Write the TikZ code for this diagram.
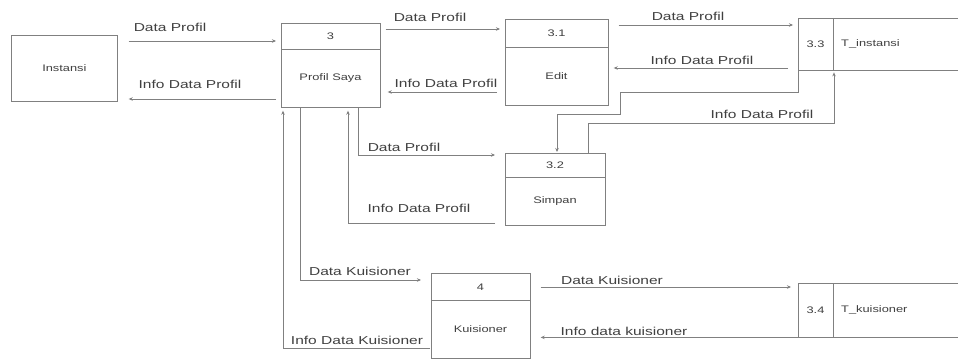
\documentclass[tikz,border=0pt]{standalone}
\usepackage{fontspec}
\setmainfont[FakeStretch=1.35]{Liberation Sans}
\usetikzlibrary{arrows.meta}
\begin{document}
\begin{tikzpicture}[x=1pt,y=-1pt,
  line/.style={draw=black!50, line width=0.7pt},
  flow/.style={line, -{Stealth[length=4pt,width=3.5pt]}},
  box/.style={line, rectangle, inner sep=0pt, anchor=north west},
  store/.style={rectangle, inner sep=0pt, anchor=north west},
  lbl/.style={font=\fontsize{11.5}{13}\selectfont, text=black!75, inner sep=0pt},
  txt/.style={font=\fontsize{9.5}{11}\selectfont, text=black!75, inner sep=0pt}]
\useasboundingbox[fill=white] (0,0) rectangle (958,361);

% external entity
\node[box, minimum width=106pt, minimum height=66pt] (inst) at (11,35) {};
\node[txt] (inst-t) at (inst.center) {Instansi};

% process 3
\node[box, minimum width=99pt, minimum height=84pt] (p3) at (281,23) {};
\draw[line] (p3.west |- 0,49) -- (p3.east |- 0,49);
\node[txt] (p3-n) at (330.5,36) {3};
\node[txt] (p3-t) at (330.5,78) {Profil Saya};

% process 3.1
\node[box, minimum width=103pt, minimum height=86pt] (p31) at (505,19) {};
\draw[line] (p31.west |- 0,47) -- (p31.east |- 0,47);
\node[txt] (p31-n) at (556.5,33) {3.1};
\node[txt] (p31-t) at (556.5,76) {Edit};

% process 3.2
\node[box, minimum width=100pt, minimum height=72pt] (p32) at (505,153) {};
\draw[line] (p32.west |- 0,177) -- (p32.east |- 0,177);
\node[txt] (p32-n) at (555,165) {3.2};
\node[txt] (p32-t) at (555,201) {Simpan};

% process 4
\node[box, minimum width=99pt, minimum height=85pt] (p4) at (431,273) {};
\draw[line] (p4.west |- 0,300) -- (p4.east |- 0,300);
\node[txt] (p4-n) at (480.5,287) {4};
\node[txt] (p4-t) at (480.5,329) {Kuisioner};

% data store 3.3
\node[store, minimum width=160pt, minimum height=52pt] (ds33) at (798,18) {};
\draw[line] (ds33.north east) -- (ds33.north west) -- (ds33.south west) -- (ds33.south east);
\draw[line] (ds33.north -| 833,0) -- (ds33.south -| 833,0);
\node[txt] (ds33-n) at (815.5,44) {3.3};
\node[txt, anchor=west] (ds33-t) at (841,44) {T\_instansi};

% data store 3.4
\node[store, minimum width=160pt, minimum height=54pt] (ds34) at (798,283) {};
\draw[line] (ds34.north east) -- (ds34.north west) -- (ds34.south west) -- (ds34.south east);
\draw[line] (ds34.north -| 833,0) -- (ds34.south -| 833,0);
\node[txt] (ds34-n) at (815.5,310) {3.4};
\node[txt, anchor=west] (ds34-t) at (841,310) {T\_kuisioner};

% data flows
\draw[flow, shorten <=11pt, shorten >=5pt] (inst.east |- 0,41) -- (p3.west |- 0,41);
\node[lbl] (l1) at (170,27) {Data Profil};
\draw[flow, shorten <=5pt, shorten >=11pt] (p3.west |- 0,99) -- (inst.east |- 0,99);
\node[lbl] (l2) at (190,84) {Info Data Profil};

\draw[flow, shorten <=5pt, shorten >=5pt] (p3.east |- 0,29) -- (p31.west |- 0,29);
\node[lbl] (l3) at (430,17) {Data Profil};
\draw[flow, shorten <=8pt, shorten >=7pt] (p31.west |- 0,92) -- (p3.east |- 0,92);
\node[lbl] (l4) at (446,83) {Info Data Profil};

\draw[flow, shorten <=10pt, shorten >=5pt] (p31.east |- 0,25) -- (ds33.west |- 0,25);
\node[lbl] (l5) at (688,16) {Data Profil};
\draw[flow, shorten <=10pt, shorten >=5pt] (ds33.west |- 0,68) -- (p31.east |- 0,68);
\node[lbl] (l6) at (702,60) {Info Data Profil};

\draw[flow, shorten >=1pt] (ds33.south west) |- (620,92) |- (557,114) -- (p32.north -| 557,0);
\draw[flow, shorten >=2pt] (p32.north -| 588,0) |- (834,123) -- (ds33.south -| 834,0);
\node[lbl] (l7) at (762,114) {Info Data Profil};

\draw[flow, shorten >=10pt] (p3.south -| 358,0) |- (p32.west |- 0,155);
\node[lbl] (l8) at (404,147) {Data Profil};
\draw[flow, shorten <=10pt, shorten >=3pt] (p32.west |- 0,223) -| (p3.south -| 348,0);
\node[lbl] (l9) at (419,208) {Info Data Profil};

\draw[flow, shorten >=10pt] (p3.south -| 300,0) |- (p4.west |- 0,280);
\node[lbl] (l10) at (360,271) {Data Kuisioner};
\draw[flow, shorten <=1pt, shorten >=3pt] (p4.west |- 0,348) -| (p3.south -| 283,0);
\node[lbl] (l11) at (357,340) {Info Data Kuisioner};

\draw[flow, shorten <=10pt, shorten >=7pt] (p4.east |- 0,287) -- (ds34.west |- 0,287);
\node[lbl] (l12) at (612,280) {Data Kuisioner};
\draw[flow, shorten >=10pt] (ds34.south west) -- (p4.east |- ds34.south west);
\node[lbl] (l13) at (624,331) {Info data kuisioner};
\end{tikzpicture}
\end{document}
